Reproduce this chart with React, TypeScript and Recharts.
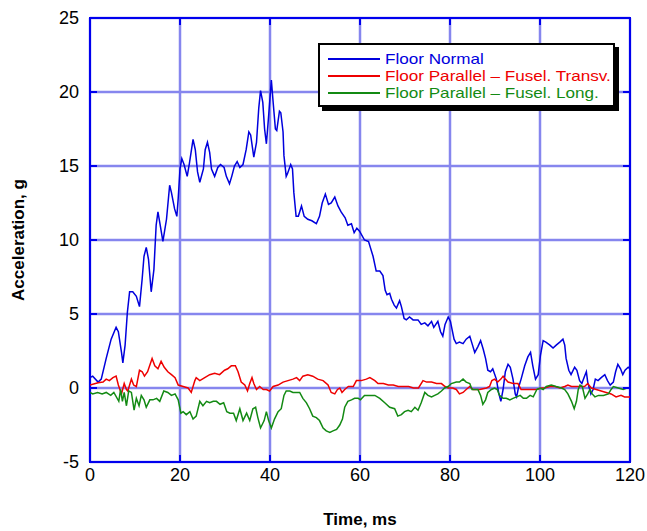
import React from "react";
import { CartesianGrid, Label, Line, LineChart, ReferenceArea, XAxis, YAxis } from "recharts";

// time (ms) and acceleration (g), one pair of arrays per trace
const normalT = [0, 0.6, 1.8, 2.5, 3.6, 4.7, 5.8, 6.3, 7.0, 7.3, 7.8, 8.3, 8.8, 9.5, 10.3, 11.0, 11.6, 12.0, 12.5, 13.0, 13.6, 14.2, 14.7, 15.1, 15.6, 16.2, 17.0, 17.7, 18.1, 18.8, 19.3, 19.6, 20.0, 20.4, 20.9, 21.6, 22.1, 22.9, 23.4, 23.9, 24.4, 25.2, 25.6, 26.1, 26.6, 27.0, 27.7, 28.4, 29.0, 29.8, 30.3, 31.0, 31.5, 32.1, 32.7, 33.3, 34.0, 34.7, 35.3, 35.7, 36.4, 37.0, 37.5, 37.9, 38.4, 38.8, 39.2, 39.7, 40.3, 40.7, 41.2, 41.5, 42.1, 42.4, 42.9, 43.1, 43.6, 43.9, 44.6, 45.0, 45.3, 45.8, 46.3, 47.0, 47.6, 48.4, 49.3, 50.3, 51.0, 51.6, 52.3, 53.0, 53.6, 54.4, 55.1, 55.8, 56.7, 57.3, 58.1, 58.7, 59.3, 59.9, 61.0, 61.9, 62.9, 63.6, 64.4, 65.1, 65.6, 66.0, 66.6, 67.0, 67.6, 68.1, 68.8, 69.2, 69.8, 70.3, 71.0, 71.8, 72.9, 73.6, 74.4, 75.1, 75.9, 76.4, 77.3, 77.9, 78.4, 78.9, 79.6, 80.1, 80.5, 80.9, 81.4, 82.1, 82.9, 83.6, 84.4, 84.9, 85.5, 86.2, 86.8, 87.4, 87.9, 88.4, 89.0, 89.5, 90.3, 90.8, 91.3, 91.8, 92.3, 92.9, 93.4, 94.0, 94.5, 94.8, 95.2, 95.8, 96.6, 97.3, 97.9, 98.4, 99.0, 99.6, 100.1, 100.7, 101.3, 102.2, 102.9, 103.6, 104.4, 105.1, 105.5, 105.8, 106.4, 106.9, 107.7, 108.2, 108.8, 109.3, 109.9, 110.3, 110.6, 111.3, 111.8, 112.3, 112.9, 113.6, 114.4, 115.0, 115.6, 116.3, 116.8, 117.3, 117.9, 118.4, 118.9, 119.6, 120.0];
const normalG = [0.7, 0.8, 0.4, 0.6, 2.0, 3.3, 4.1, 3.8, 2.4, 1.7, 2.9, 5.1, 6.5, 6.5, 6.2, 5.5, 7.4, 8.9, 9.5, 8.7, 6.5, 8.0, 11.0, 11.9, 11.0, 9.9, 11.4, 13.7, 13.2, 12.1, 11.6, 12.8, 14.8, 15.5, 15.1, 14.3, 15.2, 16.8, 16.1, 14.6, 13.9, 14.8, 16.1, 16.6, 15.9, 14.8, 14.3, 14.9, 15.1, 14.9, 14.3, 13.8, 14.3, 15.0, 15.3, 14.9, 15.1, 16.1, 17.3, 17.1, 15.6, 16.6, 18.9, 20.1, 19.3, 17.5, 16.5, 18.4, 20.8, 19.3, 17.5, 17.4, 18.7, 18.6, 17.3, 15.7, 14.3, 14.5, 15.1, 14.8, 13.2, 11.6, 11.6, 12.3, 11.6, 11.4, 11.3, 11.1, 11.6, 12.5, 13.1, 12.4, 12.5, 12.9, 12.3, 11.9, 11.5, 11.0, 11.1, 10.5, 10.8, 10.6, 10.0, 9.9, 8.9, 7.9, 7.9, 7.6, 6.6, 6.3, 6.4, 6.0, 5.6, 5.4, 5.9, 5.5, 4.7, 4.6, 4.8, 4.6, 4.6, 4.3, 4.4, 4.2, 4.5, 4.1, 4.5, 3.8, 3.5, 4.3, 4.8, 4.5, 3.9, 3.3, 3.0, 3.1, 3.0, 3.3, 3.5, 3.0, 2.4, 2.8, 3.2, 2.6, 2.0, 1.2, 1.1, 1.3, 0.6, -0.3, -0.9, -0.1, 1.1, 1.6, 1.4, 0.6, -0.4, -0.6, 0.0, 0.6, 1.5, 2.1, 2.4, 1.5, 0.6, 0.9, 2.2, 3.2, 3.1, 2.9, 2.7, 2.9, 3.1, 3.3, 2.9, 2.0, 1.2, 0.9, 1.4, 1.2, 0.5, 0.3, 0.8, 1.1, 0.4, -0.4, -0.1, 0.6, 0.5, 0.7, 0.9, 0.5, 0.2, 0.4, 1.1, 1.6, 1.3, 0.9, 1.2, 1.4, 1.3];

const transvT = [0, 1.8, 2.9, 3.6, 4.3, 5.1, 5.8, 6.3, 7.0, 7.6, 8.1, 8.4, 9.2, 9.7, 10.3, 11.0, 11.6, 12.1, 12.8, 13.8, 14.4, 15.1, 15.8, 16.5, 17.3, 18.1, 18.9, 19.6, 20.7, 21.8, 22.5, 23.3, 23.6, 24.4, 25.5, 26.6, 27.7, 28.8, 29.9, 30.6, 31.4, 32.3, 32.9, 33.6, 34.4, 35.0, 35.5, 36.0, 36.4, 37.0, 37.7, 38.5, 39.2, 39.9, 40.7, 41.8, 42.9, 44.0, 45.1, 45.9, 46.6, 47.3, 48.4, 49.5, 50.6, 51.8, 52.9, 53.6, 54.4, 55.0, 55.5, 56.0, 56.6, 57.4, 58.5, 59.2, 60.3, 61.4, 62.2, 63.3, 64.0, 65.2, 66.3, 67.4, 68.5, 69.6, 70.8, 71.9, 73.0, 74.0, 74.8, 75.9, 77.0, 78.1, 78.9, 79.6, 80.6, 81.4, 82.1, 82.9, 83.6, 84.4, 85.1, 86.6, 88.1, 88.8, 89.3, 89.9, 90.6, 91.3, 91.8, 92.3, 92.9, 94.0, 95.1, 95.8, 97.0, 98.1, 99.2, 100.4, 101.0, 102.2, 103.3, 104.4, 105.5, 106.2, 107.0, 108.1, 109.9, 110.6, 111.4, 112.5, 113.6, 114.7, 115.8, 116.9, 118.0, 118.8, 120.0];
const transvG = [0.2, 0.35, 0.4, 0.6, 0.5, 0.7, 0.8, 0.2, -0.4, 0.3, -0.1, -0.2, 0.6, 0.2, 0.1, 1.2, 1.1, 0.8, 1.1, 2.0, 1.5, 1.3, 1.8, 1.4, 1.1, 0.9, 0.7, 0.2, 0.1, 0.0, -0.3, 0.5, 0.7, 0.5, 0.7, 0.9, 1.0, 0.9, 1.2, 1.3, 1.5, 1.5, 1.1, 0.4, 0.2, -0.2, 0.3, 0.7, 0.3, -0.1, 0.1, -0.1, -0.1, -0.2, 0.1, 0.2, 0.4, 0.5, 0.6, 0.7, 0.5, 0.8, 0.9, 0.8, 0.6, 0.5, 0.2, -0.3, -0.4, -0.1, 0.0, -0.3, -0.1, 0.1, 0.1, 0.5, 0.5, 0.6, 0.7, 0.5, 0.3, 0.3, 0.2, 0.2, 0.1, 0.1, 0.1, 0.0, 0.0, 0.5, 0.4, 0.4, 0.3, 0.3, 0.1, 0.0, 0.0, -0.1, -0.4, -0.3, -0.1, 0.1, -0.1, -0.1, 0.0, 0.1, 0.5, 0.6, 0.4, 0.6, 0.8, 0.6, 0.4, 0.3, 0.3, -0.1, -0.1, -0.1, -0.1, 0.0, 0.0, 0.1, 0.1, 0.0, 0.1, 0.2, 0.1, 0.1, 0.1, 0.3, 0.0, -0.1, -0.2, -0.3, -0.4, -0.6, -0.5, -0.6, -0.6];

const longT = [0, 0.6, 1.7, 2.7, 3.6, 4.6, 5.3, 6.4, 6.8, 7.2, 7.6, 8.1, 8.6, 9.2, 9.8, 10.3, 10.9, 11.4, 12.0, 12.5, 13.3, 14.0, 14.8, 15.5, 16.4, 17.3, 18.1, 18.9, 19.6, 20.2, 20.7, 21.4, 22.2, 22.9, 23.6, 24.4, 25.1, 25.9, 26.6, 27.4, 28.1, 28.9, 29.7, 30.4, 31.1, 31.9, 32.5, 33.3, 34.0, 34.8, 35.5, 36.2, 36.8, 37.3, 37.9, 38.7, 39.2, 39.7, 40.3, 41.0, 41.8, 42.5, 43.1, 43.6, 44.4, 45.1, 46.6, 47.3, 48.1, 48.8, 49.5, 50.3, 51.0, 51.8, 52.5, 53.3, 54.0, 54.8, 55.5, 56.1, 56.6, 57.3, 58.1, 58.8, 59.6, 60.1, 61.0, 62.2, 63.3, 64.4, 65.5, 66.6, 67.7, 68.4, 69.2, 69.9, 70.7, 71.4, 72.2, 72.9, 73.6, 74.4, 75.1, 75.9, 76.6, 77.3, 78.1, 78.8, 79.6, 80.3, 81.4, 82.1, 82.9, 83.6, 84.4, 84.9, 86.2, 86.8, 87.3, 87.9, 88.4, 89.2, 89.9, 90.5, 91.0, 91.8, 92.5, 93.3, 94.0, 94.8, 95.6, 96.3, 97.0, 97.8, 98.5, 99.3, 100.0, 100.7, 101.4, 102.5, 103.6, 104.8, 105.5, 106.2, 107.0, 107.6, 108.1, 108.5, 108.9, 109.4, 110.0, 110.6, 111.1, 111.6, 112.2, 113.0, 114.1, 115.2, 115.8, 116.3, 117.4, 118.5, 119.3, 120.0];
const longG = [-0.3, -0.4, -0.3, -0.4, -0.3, -0.5, -0.3, -0.9, -0.1, -0.9, -0.3, -1.2, -0.2, -0.3, -1.5, -0.7, -1.2, -0.5, -0.8, -1.3, -0.8, -0.8, -0.7, -0.9, -0.2, -0.3, -0.5, -0.4, -0.8, -1.7, -1.6, -1.8, -1.6, -2.1, -1.9, -0.9, -1.2, -0.9, -1.0, -0.9, -0.9, -1.1, -1.0, -1.6, -1.7, -1.7, -2.2, -1.4, -2.2, -1.7, -2.2, -1.4, -1.3, -2.0, -2.7, -2.2, -1.6, -2.2, -2.7, -2.1, -1.6, -1.4, -0.5, -0.2, -0.2, -0.3, -0.3, -0.7, -1.0, -1.4, -1.9, -2.0, -2.2, -2.7, -2.9, -3.0, -2.9, -2.8, -2.5, -2.1, -1.3, -0.9, -0.8, -0.7, -0.7, -0.8, -0.5, -0.5, -0.5, -0.7, -1.0, -1.3, -1.4, -1.9, -1.8, -1.6, -1.5, -1.6, -1.3, -1.5, -1.0, -0.3, -0.5, -0.6, -0.5, -0.4, -0.2, 0.0, 0.1, 0.3, 0.4, 0.4, 0.6, 0.4, 0.3, -0.1, -0.1, -0.5, -1.1, -0.8, -0.3, -0.1, 0.0, -0.1, -0.5, -0.7, -0.7, -0.8, -0.7, -0.6, -0.5, -0.7, -0.7, -0.5, -0.6, -0.1, 0.0, -0.1, 0.1, 0.2, 0.1, 0.0, -0.1, -0.4, -0.9, -1.4, -0.9, -0.1, 0.2, 0.1, -0.7, -0.4, -0.1, -0.4, -0.6, -0.5, -0.5, -0.4, -0.1, 0.1, 0.0, -0.1, 0.0, 0.0];

const xTicks = [0, 20, 40, 60, 80, 100, 120];
const yTicks = [-5, 0, 5, 10, 15, 20, 25];

const toPoints = (t: number[], g: number[]) => t.map((x, i) => ({ t: x, g: g[i] }));

const series = [
  { name: "Floor Normal", color: "#0000dd", data: toPoints(normalT, normalG) },
  { name: "Floor Parallel \u2013 Fusel. Transv.", color: "#ee0000", data: toPoints(transvT, transvG) },
  { name: "Floor Parallel \u2013 Fusel. Long.", color: "#138a13", data: toPoints(longT, longG) },
];

const W = 647;
const H = 531;
const FONT = '"Liberation Sans", Arial, sans-serif';
const FRAME = "#0000ee";
const GRID = "#8686ee";
const margin = { top: 18, right: 17, bottom: 0, left: 0 };
const Y_W = 90;
const X_H = 69;
const L = margin.left + Y_W;
const R = W - margin.right;
const T = margin.top;
const B = H - X_H;

function YTick({ y, payload }: any) {
  return (
    <g>
      <line x1={L} x2={L + 7} y1={y} y2={y} stroke={FRAME} strokeWidth={2} />
      <line x1={R - 7} x2={R} y1={y} y2={y} stroke={FRAME} strokeWidth={2} />
      <text x={L - 11} y={y} dy="0.36em" textAnchor="end" fontSize={18} fill="#000" fontFamily={FONT}>
        {payload.value}
      </text>
    </g>
  );
}

function XTick({ x, payload }: any) {
  return (
    <g>
      <line x1={x} x2={x} y1={B - 7} y2={B} stroke={FRAME} strokeWidth={2} />
      <line x1={x} x2={x} y1={T} y2={T + 7} stroke={FRAME} strokeWidth={2} />
      <text x={x} y={B + 6} dy="0.72em" textAnchor="middle" fontSize={18} fill="#000" fontFamily={FONT}>
        {payload.value}
      </text>
    </g>
  );
}

function Legend() {
  return (
    <div
      style={{
        position: "absolute",
        left: 318,
        top: 43,
        width: 293,
        height: 55,
        border: "2px solid #000",
        boxShadow: "4px 4px 0 #000",
        background: "#fff",
        paddingTop: 5,
        boxSizing: "content-box",
        fontFamily: FONT,
        fontSize: 15,
      }}
    >
      {series.map((s) => (
        <div key={s.name} style={{ position: "relative", height: 17, lineHeight: "17px", whiteSpace: "nowrap" }}>
          <span style={{ position: "absolute", left: 8, top: 8, width: 52, height: 1.5, background: s.color }} />
          <span
            style={{
              position: "absolute",
              left: 65,
              top: 0,
              color: s.color,
              display: "inline-block",
              transform: "scaleX(1.14)",
              transformOrigin: "left center",
            }}
          >
            {s.name}
          </span>
        </div>
      ))}
    </div>
  );
}

export default function App() {
  return (
    <div style={{ position: "absolute", left: 0, top: 0, width: W, height: H, background: "#fff" }}>
      <LineChart width={W} height={H} margin={margin}>
        <CartesianGrid stroke={GRID} strokeWidth={2.5} />
        <XAxis
          dataKey="t"
          type="number"
          domain={[0, 120]}
          ticks={xTicks}
          allowDataOverflow
          height={X_H}
          axisLine={false}
          tickLine={false}
          tick={<XTick />}
        >
          <Label
            content={({ viewBox }: any) => (
              <text
                x={viewBox.x + viewBox.width / 2}
                y={viewBox.y + 63}
                textAnchor="middle"
                fontSize={17}
                fontWeight="bold"
                fontFamily={FONT}
              >
                Time, ms
              </text>
            )}
          />
        </XAxis>
        <YAxis
          type="number"
          domain={[-5, 25]}
          ticks={yTicks}
          allowDataOverflow
          width={Y_W}
          axisLine={false}
          tickLine={false}
          tick={<YTick />}
        >
          <Label
            content={({ viewBox }: any) => {
              const cx = 24;
              const cy = viewBox.y + viewBox.height / 2;
              return (
                <text
                  x={cx}
                  y={cy}
                  transform={`rotate(-90 ${cx} ${cy})`}
                  textAnchor="middle"
                  fontSize={17}
                  fontWeight="bold"
                  fontFamily={FONT}
                >
                  Acceleration, g
                </text>
              );
            }}
          />
        </YAxis>
        <ReferenceArea x1={0} x2={120} y1={-5} y2={25} stroke={FRAME} strokeWidth={2} fill="none" fillOpacity={0} />
        {series.map((s) => (
          <Line
            key={s.name}
            data={s.data}
            dataKey="g"
            name={s.name}
            type="linear"
            stroke={s.color}
            strokeWidth={1.5}
            dot={false}
            activeDot={false}
            isAnimationActive={false}
          />
        ))}
      </LineChart>
      <Legend />
    </div>
  );
}
